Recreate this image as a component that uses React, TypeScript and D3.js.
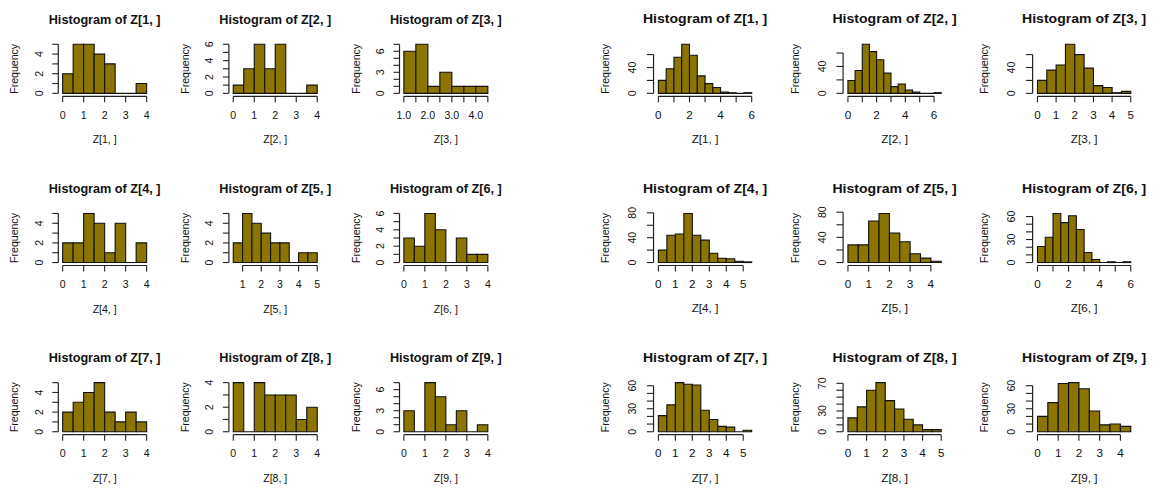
import React from "react";
import * as d3 from "d3";

const width = 1156;
const height = 488;

// every bin is 0.5 wide
const binWidth = 0.5;

// left block: 20 draws per row of Z
const leftStarts = [0, 0, 1, 0, 0.5, 0, 0, 0, 0];
const leftCounts = [
  [2, 5, 5, 4, 3, 0, 0, 1],
  [1, 3, 6, 3, 6, 0, 0, 1],
  [6, 7, 1, 3, 1, 1, 1],
  [2, 2, 5, 4, 1, 4, 0, 2],
  [2, 5, 4, 3, 2, 2, 0, 1, 1],
  [3, 2, 6, 4, 0, 3, 1, 1],
  [2, 3, 4, 5, 2, 1, 2, 1],
  [4, 0, 4, 3, 3, 3, 1, 2],
  [3, 0, 7, 5, 1, 3, 0, 1],
];
const leftYLabels = [[0, 2, 4], [0, 2, 4, 6], [0, 3, 6], [0, 2, 4], [0, 2, 4], [0, 2, 4, 6], [0, 2, 4], [0, 2, 4], [0, 3, 6]];
const leftXLabels = [
  [0, 1, 2, 3, 4], [0, 1, 2, 3, 4], [1, 2, 3, 4],
  [0, 1, 2, 3, 4], [1, 2, 3, 4, 5], [0, 1, 2, 3, 4],
  [0, 1, 2, 3, 4], [0, 1, 2, 3, 4], [0, 1, 2, 3, 4],
];

// right block: ~300 draws per row of Z
const rightStarts = [0, 0, 0, 0, 0, 0, 0, 0, 0];
const rightCounts = [
  [20, 38, 56, 76, 59, 27, 15, 9, 2, 1, 0, 1],
  [19, 34, 73, 62, 50, 30, 10, 14, 5, 2, 0, 0, 1],
  [20, 36, 44, 76, 60, 39, 12, 9, 1, 3],
  [20, 44, 46, 79, 44, 36, 15, 7, 6, 2, 1],
  [28, 28, 66, 78, 47, 33, 14, 7, 2],
  [21, 33, 64, 52, 61, 43, 13, 4, 0, 1, 0, 1],
  [21, 35, 64, 62, 61, 28, 16, 7, 6, 0, 2],
  [20, 36, 60, 71, 45, 33, 18, 10, 3, 3],
  [20, 38, 63, 64, 56, 27, 9, 10, 7],
];
const rightYLabels = [[0, 40], [0, 40], [0, 40], [0, 40, 80], [0, 40, 80], [0, 30, 60], [0, 30, 60], [0, 30, 70], [0, 30, 60]];
const rightXLabels = [
  [0, 2, 4, 6], [0, 2, 4, 6], [0, 1, 2, 3, 4, 5],
  [0, 1, 2, 3, 4, 5], [0, 1, 2, 3, 4], [0, 2, 4, 6],
  [0, 1, 2, 3, 4, 5], [0, 1, 2, 3, 4, 5], [0, 1, 2, 3, 4],
];

// layout (R default margins, cex .66)
const rowH = 169.2;
const row0 = -9.7;
const colW = 170.6;
const marTop = 52;
const marLeft = 52.8;
const plotW = 90.7;
const plotH = 53;

const font = "'Liberation Sans', Arial, sans-serif";
const fill = "#8B7500";

// R's axis pretty() step (GEPretty uses high.u.bias .8 / 1.7)
const prettyStep = (lo: number, hi: number, n = 5) => {
  const cell = (hi - lo) / n;
  const U = Math.pow(10, Math.floor(Math.log10(cell)));
  let unit = U;
  if (2 * U - cell < 0.8 * (cell - unit)) {
    unit = 2 * U;
    if (5 * U - cell < 1.7 * (cell - unit)) {
      unit = 5 * U;
      if (10 * U - cell < 0.8 * (cell - unit)) unit = 10 * U;
    }
  }
  return unit;
};
const axisTicks = (lo: number, hi: number) => {
  const step = prettyStep(lo, hi);
  const out: number[] = [];
  for (let k = Math.ceil(lo / step - 1e-9); k * step <= hi + 1e-9; k++) out.push(+(k * step).toFixed(6));
  return { ticks: out, step };
};

const Hist = ({ counts, start, yLabels, xLabels, idx, ox, oy }: any) => {
  const left = ox + marLeft;
  const top = oy + marTop;
  const bottom = top + plotH;
  const end = start + counts.length * binWidth;
  const pad = (end - start) * 0.04;
  const x = d3.scaleLinear().domain([start - pad, end + pad]).range([left, left + plotW]);
  const ymax = d3.max(counts) as number;
  const y = d3.scaleLinear().domain([-0.04 * ymax, 1.04 * ymax]).range([bottom, top]);

  const xt = axisTicks(x.domain()[0], x.domain()[1]);
  const yt = axisTicks(y.domain()[0], y.domain()[1]);
  const fmt = d3.format(xt.step < 1 ? ".1f" : "d");
  const xLab = new Set(xLabels.map((v: number) => fmt(v)));
  const tickLen = 6;

  return (
    <g>
      <text x={left + plotW / 2} y={top - 18.8} textAnchor="middle" fontWeight="bold" fontSize={12.67}>
        {`Histogram of Z[${idx}, ]`}
      </text>
      {counts.map((c: number, i: number) => {
        const x0 = x(start + i * binWidth);
        const x1 = x(start + (i + 1) * binWidth);
        const y0 = y(0);
        const y1 = y(c);
        return (
          <path key={i} d={`M${x0},${y0}V${y1}H${x1}V${y0}Z`}
            fill={fill} stroke="#111" strokeWidth={1.1} vectorEffect="non-scaling-stroke" />
        );
      })}
      {/* x axis */}
      <line x1={x(xt.ticks[0])} x2={x(xt.ticks[xt.ticks.length - 1])} y1={bottom + 1} y2={bottom + 1}
        stroke="#222" strokeWidth={1.2} vectorEffect="non-scaling-stroke" />
      {xt.ticks.map((t) => (
        <g key={t}>
          <line x1={x(t)} x2={x(t)} y1={bottom + 1} y2={bottom + 1 + tickLen} stroke="#222" strokeWidth={1.1} vectorEffect="non-scaling-stroke" />
          {xLab.has(fmt(t)) && (
            <text x={x(t)} y={bottom + 23.7} textAnchor="middle" fontSize={10.56}>{fmt(t)}</text>
          )}
        </g>
      ))}
      {/* y axis */}
      <line x1={left - 1} x2={left - 1} y1={y(yt.ticks[0])} y2={y(yt.ticks[yt.ticks.length - 1])}
        stroke="#222" strokeWidth={1.2} vectorEffect="non-scaling-stroke" />
      {yt.ticks.map((t) => (
        <g key={t}>
          <line x1={left - 1} x2={left - 1 - tickLen} y1={y(t)} y2={y(t)} stroke="#222" strokeWidth={1.1} vectorEffect="non-scaling-stroke" />
          {yLabels.includes(t) && (
            <text transform={`translate(${left - 16.6},${y(t)}) rotate(-90)`} textAnchor="middle" fontSize={10.56}>{t}</text>
          )}
        </g>
      ))}
      <text transform={`translate(${left - 41},${top + plotH / 2}) rotate(-90)`} textAnchor="middle" fontSize={10.56}>
        Frequency
      </text>
      <text x={left + plotW / 2} y={bottom + 48} textAnchor="middle" fontSize={10.56}>{`Z[${idx}, ]`}</text>
    </g>
  );
};

const Panel = ({ starts, counts, yLabels, xLabels, transform }: any) => (
  <g transform={transform}>
    {counts.map((c: number[], i: number) => (
      <Hist key={i} counts={c} start={starts[i]} yLabels={yLabels[i]} xLabels={xLabels[i]} idx={i + 1}
        ox={(i % 3) * colW} oy={row0 + Math.floor(i / 3) * rowH} />
    ))}
  </g>
);

export default function App() {
  return (
    <svg width={width} height={height} style={{ position: "absolute", left: 0, top: 0, background: "#fff" }}
      fontFamily={font} fill="#111">
      <rect width={width} height={height} fill="#fff" />
      <Panel starts={leftStarts} counts={leftCounts} yLabels={leftYLabels} xLabels={leftXLabels} transform="translate(6.5,0)" />
      <Panel starts={rightStarts} counts={rightCounts} yLabels={rightYLabels} xLabels={rightXLabels} transform="translate(596,0) scale(1.111,1)" />
    </svg>
  );
}
